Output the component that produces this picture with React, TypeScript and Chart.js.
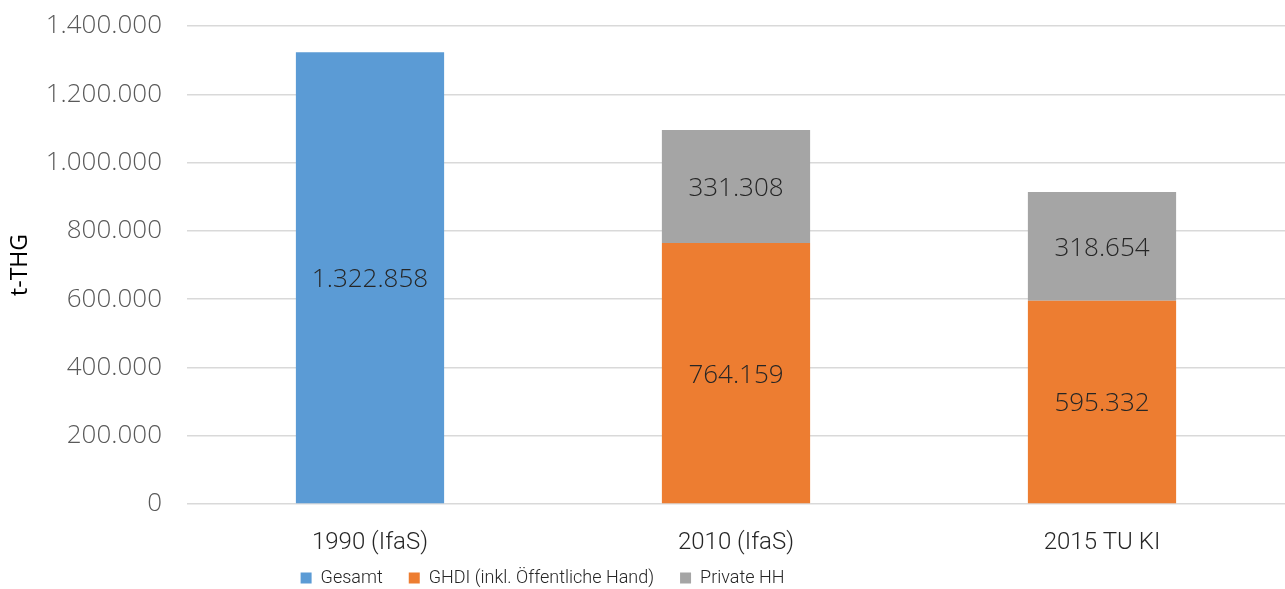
import React, { useEffect, useRef } from "react";
import { Chart, registerables } from "chart.js";

Chart.register(...registerables);

const categories = ["1990 (IfaS)", "2010 (IfaS)", "2015 TU KI"];
const gesamt = [1322858, null, null];
const ghdi = [null, 764159, 595332];
const privateHH = [null, 331308, 318654];
const yTicks = [0, 200000, 400000, 600000, 800000, 1000000, 1200000, 1400000];

const fmt = (v: number) => String(Math.round(v)).replace(/\B(?=(\d{3})+(?!\d))/g, ".");

const TICK_FONT = "'Open Sans', sans-serif";
const NARROW_FONT = "Roboto, 'Open Sans', sans-serif";

const labelPlugin = {
  id: "barLabels",
  afterDatasetsDraw(chart: any) {
    const ctx = chart.ctx;
    ctx.save();
    ctx.font = `300 26px ${TICK_FONT}`;
    ctx.fillStyle = "#262626";
    ctx.textAlign = "center";
    ctx.textBaseline = "middle";
    chart.data.datasets.forEach((ds: any, i: number) => {
      const meta = chart.getDatasetMeta(i);
      meta.data.forEach((el: any, j: number) => {
        const v = ds.data[j];
        if (v == null) return;
        const p = el.getProps(["x", "y", "base"], true);
        ctx.fillText(fmt(v), p.x, (p.y + p.base) / 2 + 2);
      });
    });
    ctx.restore();
  },
};

const legendTweak = {
  id: "legendTweak",
  afterInit(chart: any) {
    const lg = chart.legend;
    if (!lg) return;
    const orig = lg.fit.bind(lg);
    lg.fit = function () {
      orig();
      this.height = 33;
    };
  },
  afterLayout(chart: any) {
    const lg = chart.legend;
    if (!lg) return;
    lg.right -= 200;
    lg.top = 543;
  },
};

export default function App() {
  const ref = useRef<HTMLCanvasElement>(null);
  useEffect(() => {
    document.body.style.margin = "0";
    const chart = new Chart(ref.current!, {
      type: "bar",
      data: {
        labels: categories,
        datasets: [
          { label: "Gesamt", data: gesamt, backgroundColor: "#5B9BD5", stack: "s" },
          { label: "GHDI (inkl. Öffentliche Hand)", data: ghdi, backgroundColor: "#ED7D31", stack: "s" },
          { label: "Private HH", data: privateHH, backgroundColor: "#A5A5A5", stack: "s" },
        ],
      },
      options: {
        animation: false,
        responsive: false,
        maintainAspectRatio: false,
        layout: { padding: { top: 26, left: 0, right: 0, bottom: 0 } },
        datasets: { bar: { categoryPercentage: 1, barPercentage: 0.405, skipNull: false } },
        plugins: {
          legend: {
            position: "bottom",
            labels: {
              boxWidth: 11,
              boxHeight: 11,
              padding: 26,
              color: "#262626",
              font: { family: NARROW_FONT, size: 18, weight: 300 },
            },
          },
          tooltip: { enabled: false },
        },
        scales: {
          x: {
            stacked: true,
            grid: { display: false, drawTicks: false },
            border: { display: false },
            afterFit: (s: any) => {
              s.height = 52;
            },
            ticks: { color: "#262626", padding: 25, font: { family: NARROW_FONT, size: 24, weight: 300 } },
          },
          y: {
            stacked: true,
            min: 0,
            max: 1400000,
            afterBuildTicks: (s: any) => {
              s.ticks = yTicks.map((v) => ({ value: v }));
            },
            afterFit: (s: any) => {
              s.width = 187;
            },
            grid: { color: "#D9D9D9", lineWidth: 1.5, drawTicks: true, tickLength: 25, tickColor: "rgba(0,0,0,0)" },
            border: { display: false },
            ticks: {
              color: "#595959",
              padding: 0,
              font: { family: TICK_FONT, size: 26, weight: 300, lineHeight: 1 },
              callback: (v: any) => fmt(Number(v)),
            },
            title: {
              display: true,
              text: "t-THG",
              color: "#000000",
              padding: { top: 7, bottom: 0 },
              font: { family: TICK_FONT, size: 23, weight: 400 },
            },
          },
        },
      },
      plugins: [labelPlugin, legendTweak],
    });
    return () => chart.destroy();
  }, []);
  return (
    <div style={{ width: 1285, height: 589 }}>
      <canvas ref={ref} width={1285} height={589} style={{ display: "block" }} />
    </div>
  );
}
